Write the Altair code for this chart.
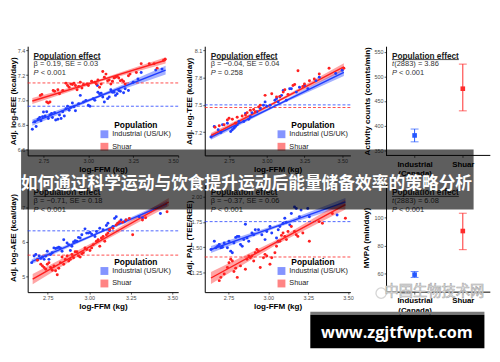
import altair as alt
import pandas as pd

FONT = "Liberation Sans"
BLUE = "#1f3dff"
RED = "#ff1f1f"
CAT_BLUE = "#2457ff"
CAT_RED = "#ff2b2b"
GROUPS = ["Industrial (US/UK)", "Shuar"]
CATS = ["Industrial (Canada)", "Shuar"]
FFM_TICKS = [2.75, 3.0, 3.25, 3.5]

# ---------------- REE ----------------
ree_ind = [(2.688, 6.765), (2.702, 6.826), (2.709, 6.787), (2.720, 6.845), (2.729, 6.860), (2.736, 6.834),
           (2.745, 6.866), (2.750, 6.903), (2.759, 6.871), (2.768, 6.905), (2.777, 6.852), (2.786, 6.879),
           (2.795, 6.892), (2.800, 6.860), (2.812, 6.897), (2.818, 6.839), (2.830, 6.845), (2.839, 6.879),
           (2.848, 6.852), (2.857, 6.905), (2.866, 6.871), (2.875, 6.929), (2.884, 6.950), (2.893, 6.918),
           (2.902, 6.939), (2.911, 6.976), (2.920, 6.945), (2.928, 6.913), (2.946, 6.971), (2.955, 7.037),
           (2.973, 6.984), (2.986, 6.997), (3.000, 6.958), (3.009, 6.950), (3.027, 7.011), (3.036, 6.997),
           (3.050, 7.116), (3.053, 7.063), (3.062, 7.050), (3.071, 7.055), (3.080, 7.024), (3.089, 6.984),
           (3.107, 7.011), (3.116, 7.024), (3.125, 7.082), (3.134, 7.063), (3.143, 7.063), (3.151, 7.037),
           (3.160, 7.050), (3.169, 7.076), (3.178, 7.071), (3.196, 7.058), (3.205, 7.090), (3.223, 7.076),
           (3.250, 7.142), (3.276, 7.169), (3.294, 7.221), (3.375, 7.240), (3.410, 7.248)]
ree_sh = [(2.732, 7.037), (2.741, 7.045), (2.768, 6.984), (2.777, 6.976), (2.786, 6.984), (2.804, 7.076),
          (2.812, 7.071), (2.830, 7.082), (2.839, 7.050), (2.857, 7.076), (2.875, 7.134), (2.884, 7.116),
          (2.893, 7.103), (2.902, 7.129), (2.911, 7.124), (2.920, 7.134), (2.928, 7.116), (2.937, 7.082),
          (2.946, 7.108), (2.955, 7.142), (2.964, 7.097), (2.973, 7.124), (2.991, 7.129), (3.000, 7.116),
          (3.018, 7.150), (3.036, 7.142), (3.044, 7.129), (3.053, 7.161), (3.062, 7.103), (3.071, 7.129),
          (3.080, 7.229), (3.089, 7.182), (3.098, 7.208), (3.107, 7.155), (3.116, 7.161), (3.125, 7.129),
          (3.134, 7.150), (3.143, 7.177), (3.151, 7.182), (3.160, 7.190), (3.169, 7.177), (3.178, 7.155),
          (3.187, 7.161), (3.196, 7.148), (3.205, 7.129), (3.223, 7.195), (3.232, 7.208), (3.267, 7.221),
          (3.294, 7.292), (3.339, 7.292), (3.366, 7.292), (3.383, 7.256), (3.419, 7.319), (3.428, 7.327)]
ree_fit_x = [2.688, 3.060, 3.430]
ree_ind_fit = [6.818, 7.030, 7.240]
ree_ind_half = [0.025, 0.010, 0.035]
ree_sh_fit = [6.992, 7.155, 7.319]
ree_sh_half = [0.025, 0.010, 0.025]
ree_means = [6.950, 7.137]

# ---------------- TEE ----------------
tee_ind = [(2.630, 7.146), (2.652, 7.261), (2.678, 7.225), (2.696, 7.196), (2.707, 7.280), (2.739, 7.298),
           (2.761, 7.207), (2.772, 7.225), (2.783, 7.243), (2.793, 7.261), (2.804, 7.280), (2.815, 7.316),
           (2.848, 7.316), (2.859, 7.406), (2.880, 7.341), (2.891, 7.370), (2.902, 7.413), (2.935, 7.424),
           (2.957, 7.460), (2.978, 7.496), (2.989, 7.533), (3.000, 7.486), (3.022, 7.496), (3.054, 7.551),
           (3.065, 7.569), (3.076, 7.533), (3.087, 7.587), (3.098, 7.605), (3.109, 7.659), (3.130, 7.551),
           (3.152, 7.677), (3.163, 7.677), (3.196, 7.641), (3.217, 7.695), (3.250, 7.713), (3.272, 7.677),
           (3.326, 7.767), (3.348, 7.804), (3.457, 7.847), (3.500, 7.883)]
tee_sh = [(2.657, 7.254), (2.685, 7.269), (2.717, 7.280), (2.739, 7.334), (2.750, 7.352), (2.772, 7.341),
          (2.793, 7.298), (2.804, 7.363), (2.837, 7.377), (2.859, 7.388), (2.870, 7.413), (2.891, 7.442),
          (2.913, 7.449), (2.924, 7.424), (2.946, 7.478), (2.957, 7.496), (2.989, 7.605), (3.033, 7.623),
          (3.065, 7.587), (3.087, 7.594), (3.109, 7.641), (3.120, 7.666), (3.141, 7.616), (3.174, 7.713),
          (3.185, 7.724), (3.207, 7.876), (3.239, 7.702), (3.250, 7.731), (3.283, 7.767), (3.315, 7.786),
          (3.348, 7.840), (3.413, 7.905), (3.511, 7.905)]
tee_fit_x = [2.630, 3.070, 3.511]
tee_ind_fit = [7.145, 7.501, 7.858]
tee_ind_half = [0.030, 0.012, 0.040]
tee_sh_fit = [7.160, 7.539, 7.919]
tee_sh_half = [0.030, 0.012, 0.040]
tee_means = [7.500, 7.471]

# ---------------- AEE ----------------
aee_ind = [(2.653, 5.394), (2.668, 5.587), (2.678, 5.635), (2.688, 5.490), (2.698, 5.587), (2.708, 5.519),
           (2.718, 5.558), (2.728, 5.490), (2.738, 5.587), (2.747, 5.731), (2.757, 5.490), (2.767, 5.635),
           (2.777, 5.683), (2.787, 5.827), (2.797, 5.808), (2.807, 5.827), (2.816, 5.846), (2.826, 5.827),
           (2.836, 5.731), (2.846, 6.067), (2.866, 5.971), (2.876, 5.923), (2.886, 5.750), (2.895, 5.875),
           (2.905, 6.000), (2.915, 6.038), (2.925, 6.019), (2.935, 6.135), (2.945, 6.115), (2.955, 6.212),
           (2.974, 6.385), (2.984, 6.260), (2.994, 6.260), (3.004, 6.279), (3.014, 6.231), (3.034, 6.163),
           (3.043, 6.308), (3.063, 6.404), (3.083, 6.356), (3.103, 6.481), (3.112, 6.548), (3.122, 6.327),
           (3.142, 6.452), (3.152, 6.692), (3.162, 6.740), (3.172, 6.548), (3.191, 6.644), (3.211, 6.596),
           (3.221, 6.644), (3.300, 6.740), (3.320, 6.712), (3.428, 6.837)]
aee_sh = [(2.688, 5.462), (2.708, 5.346), (2.718, 5.298), (2.728, 5.250), (2.738, 5.202), (2.747, 5.346),
          (2.757, 5.394), (2.767, 5.250), (2.777, 5.173), (2.787, 5.298), (2.797, 5.154), (2.807, 5.038),
          (2.816, 5.231), (2.826, 5.394), (2.836, 5.558), (2.846, 5.346), (2.856, 5.490), (2.866, 5.587),
          (2.876, 5.442), (2.886, 5.490), (2.895, 5.635), (2.905, 5.538), (2.915, 5.712), (2.925, 5.712),
          (2.935, 5.587), (2.945, 5.558), (2.955, 5.654), (2.964, 5.683), (2.974, 5.827), (2.984, 5.779),
          (3.004, 5.750), (3.014, 5.827), (3.024, 5.923), (3.043, 6.019), (3.053, 6.067), (3.063, 5.875),
          (3.073, 6.115), (3.083, 6.163), (3.093, 6.019), (3.103, 6.212), (3.112, 6.260), (3.122, 6.356),
          (3.142, 6.404), (3.162, 6.500), (3.172, 6.548), (3.182, 6.596), (3.201, 6.577), (3.221, 6.644),
          (3.241, 6.692), (3.261, 6.212), (3.320, 6.644), (3.339, 6.712), (3.468, 6.885)]
aee_ind_fit_x = [2.653, 3.060, 3.468]
aee_ind_fit = [5.423, 6.273, 7.125]
aee_ind_half = [0.070, 0.035, 0.080]
aee_sh_fit_x = [2.659, 3.070, 3.478]
aee_sh_fit = [4.913, 6.047, 7.173]
aee_sh_half = [0.150, 0.060, 0.120]
aee_means = [6.327, 5.615]

# ---------------- PAL ----------------
pal_ind = [(2.640, 1.477), (2.661, 1.558), (2.671, 1.494), (2.682, 1.510), (2.692, 1.526), (2.702, 1.494),
           (2.712, 1.500), (2.723, 1.542), (2.743, 1.494), (2.753, 1.558), (2.764, 1.461), (2.774, 1.445),
           (2.784, 1.542), (2.795, 1.597), (2.805, 1.607), (2.815, 1.607), (2.825, 1.526), (2.836, 1.510),
           (2.846, 1.575), (2.856, 1.727), (2.866, 1.591), (2.877, 1.558), (2.897, 1.640), (2.908, 1.623),
           (2.918, 1.672), (2.938, 1.672), (2.959, 1.623), (2.979, 1.575), (2.990, 1.656), (3.010, 1.705),
           (3.021, 1.640), (3.051, 1.591), (3.062, 1.558), (3.062, 1.672), (3.072, 1.705), (3.092, 1.737),
           (3.103, 1.786), (3.113, 1.747), (3.134, 1.721), (3.144, 1.834), (3.164, 1.899), (3.175, 1.883),
           (3.195, 1.802), (3.205, 1.867), (3.247, 1.883), (3.257, 1.802), (3.431, 1.818)]
pal_sh = [(2.692, 1.169), (2.702, 1.201), (2.723, 1.234), (2.743, 1.299), (2.753, 1.347), (2.764, 1.380),
          (2.774, 1.364), (2.784, 1.260), (2.795, 1.292), (2.805, 1.201), (2.825, 1.315), (2.856, 1.282),
          (2.866, 1.380), (2.877, 1.412), (2.887, 1.396), (2.897, 1.412), (2.908, 1.364), (2.918, 1.445),
          (2.928, 1.477), (2.938, 1.461), (2.949, 1.299), (2.969, 1.396), (2.979, 1.429), (2.990, 1.412),
          (3.010, 1.331), (3.021, 1.396), (3.041, 1.445), (3.051, 1.510), (3.062, 1.558), (3.072, 1.558),
          (3.082, 1.617), (3.092, 1.640), (3.103, 1.607), (3.113, 1.575), (3.123, 1.656), (3.144, 1.705),
          (3.164, 1.656), (3.175, 1.623), (3.185, 1.607), (3.216, 1.640), (3.257, 1.558), (3.318, 1.753),
          (3.339, 1.737), (3.401, 1.834), (3.483, 1.786)]
pal_fit_x = [2.640, 3.060, 3.483]
pal_ind_fit = [1.477, 1.712, 1.948]
pal_ind_half = [0.035, 0.015, 0.040]
pal_sh_fit = [1.195, 1.557, 1.922]
pal_sh_half = [0.060, 0.022, 0.050]
pal_means = [1.753, 1.403]

# ---------------- group comparisons ----------------
act_mean = [380, 475]
act_lo = [367, 430]
act_hi = [393, 525]
mvpa_mean = [59.2, 90.3]
mvpa_lo = [57.2, 77.0]
mvpa_hi = [61.4, 103.0]

W1, W2, W3, H = 153, 148, 115.3, 111
CAT_AXIS_SHIFT = 9.3
ONE = pd.DataFrame({"k": [0]})


def legend_spec():
    return alt.Legend(title="Population", orient="none", legendX=74, legendY=76, symbolType="square",
                      symbolSize=64, symbolOpacity=0.55, symbolStrokeWidth=0, labelFontSize=7.4,
                      labelColor="#1a1a1a", labelFont=FONT, titleFont=FONT, titleFontSize=8.5,
                      titleFontWeight="bold", titleColor="#000000", titleAnchor="middle", titlePadding=1,
                      rowPadding=4.7, labelOffset=4, padding=0)


def annotate(line2, line3, x0=6):
    layers = [
        alt.Chart(ONE).mark_text(text="Population effect", align="left", baseline="middle", font=FONT,
                                 fontSize=8.4, fontWeight="bold", color="#1a1a1a")
        .encode(x=alt.value(x0), y=alt.value(9.5)),
        alt.Chart(ONE).mark_rule(color="#1a1a1a", strokeWidth=0.8)
        .encode(x=alt.value(x0), x2=alt.value(x0 + 68), y=alt.value(13.6)),
    ]
    for yy, parts in ((18.5, line2), (27.3, line3)):
        for txt, italic, dx in parts:
            layers.append(
                alt.Chart(ONE).mark_text(text=txt, align="left", baseline="middle", font=FONT, fontSize=7.6,
                                         fontStyle="italic" if italic else "normal", color="#333333")
                .encode(x=alt.value(x0 + dx), y=alt.value(yy)))
    return layers


def reg_panel(ind, sh, fx_i, fy_i, fh_i, fx_s, fy_s, fh_s, means, xdom, ydom, yticks, yfmt, ytitle,
              title_x, width, ann):
    pts = pd.DataFrame([(x, y, GROUPS[0]) for x, y in ind] + [(x, y, GROUPS[1]) for x, y in sh],
                       columns=["x", "y", "g"])
    rows = []
    for g, fx, fy, fh in ((GROUPS[0], fx_i, fy_i, fh_i), (GROUPS[1], fx_s, fy_s, fh_s)):
        for x, f, h in zip(fx, fy, fh):
            rows.append((x, f, f - h, f + h, g))
    fit = pd.DataFrame(rows, columns=["x", "fit", "lo", "hi", "g"])
    mdf = pd.DataFrame({"m": means, "g": GROUPS})
    xs = alt.Scale(domain=xdom, nice=False, zero=False)
    ys = alt.Scale(domain=ydom, nice=False, zero=False)
    xax = alt.Axis(values=FFM_TICKS, format=".2f", title="log-FFM (kg)")
    yax = alt.Axis(values=yticks, format=yfmt, title=ytitle, titleX=title_x, titleY=H / 2)
    cs = alt.Scale(domain=GROUPS, range=[BLUE, RED])

    def X(f):
        return alt.X(f, type="quantitative", scale=xs, axis=xax)

    def Y(f):
        return alt.Y(f, type="quantitative", scale=ys, axis=yax)

    band = alt.Chart(fit).mark_area(opacity=0.4).encode(
        x=X("x"), y=Y("lo"), y2="hi", color=alt.Color("g:N", scale=cs, legend=legend_spec()))
    mean = alt.Chart(mdf).mark_rule(strokeDash=[3, 2], strokeWidth=0.8).encode(
        y=Y("m"), color=alt.Color("g:N", scale=cs, legend=None))
    line = alt.Chart(fit).mark_line(strokeWidth=1.4).encode(
        x=X("x"), y=Y("fit"), color=alt.Color("g:N", scale=cs, legend=None))
    dots = alt.Chart(pts).mark_circle(size=9, opacity=1).encode(
        x=X("x"), y=Y("y"), color=alt.Color("g:N", scale=cs, legend=None))
    return alt.layer(band, mean, line, dots, *ann).properties(width=width, height=H)


def cat_panel(mean, lo, hi, ydom, yticks, ytitle, title_x, ann, extra=()):
    df = pd.DataFrame({"c": CATS, "m": mean, "lo": lo, "hi": hi})
    xs = alt.Scale(type="point", domain=CATS, padding=0.6765, align=0.578)
    xax = alt.Axis(title=None, labelExpr="split(datum.label, ' ')", labelFontSize=8, labelFontWeight="bold",
                   labelColor="#000000", labelPadding=3, labelLineHeight=9.5, labelAngle=0, domain=False)
    ys = alt.Scale(domain=ydom, nice=False, zero=False)
    yax = alt.Axis(values=yticks, format="d", title=ytitle, titleX=title_x, titleY=H / 2,
                   offset=-CAT_AXIS_SHIFT)
    cs = alt.Scale(domain=CATS, range=[CAT_BLUE, CAT_RED])
    X = alt.X("c:N", scale=xs, axis=xax)
    col = alt.Color("c:N", scale=cs, legend=None)

    def Y(f):
        return alt.Y(f, type="quantitative", scale=ys, axis=yax)

    base_line = alt.Chart(ONE).mark_rule(color="#000000", strokeWidth=1).encode(
        x=alt.value(CAT_AXIS_SHIFT), x2=alt.value(W3), y=alt.value(H))
    bar = alt.Chart(df).mark_rule(strokeWidth=1).encode(x=X, y=Y("lo"), y2="hi", color=col)
    cap_lo = alt.Chart(df).mark_tick(thickness=1, size=8).encode(x=X, y=Y("lo"), color=col)
    cap_hi = alt.Chart(df).mark_tick(thickness=1, size=8).encode(x=X, y=Y("hi"), color=col)
    sq = alt.Chart(df).mark_square(size=22, opacity=1).encode(x=X, y=Y("m"), color=col)
    return alt.layer(bar, cap_lo, cap_hi, sq, base_line, *ann, *extra).properties(width=W3, height=H)


P_LT = [("P", True, 0), ("< 0.001", False, 7.2)]
CX0 = 6 + CAT_AXIS_SHIFT

p1 = reg_panel(ree_ind, ree_sh, ree_fit_x, ree_ind_fit, ree_ind_half, ree_fit_x, ree_sh_fit, ree_sh_half,
               ree_means, [2.662, 3.50], [6.555, 7.432], [6.6, 6.8, 7.0, 7.2, 7.4], ".1f",
               "Adj. log-REE (kcal/day)", -10.5, W1,
               annotate([("β = 0.19, SE = 0.03", False, 0)], P_LT))
p2 = reg_panel(tee_ind, tee_sh, tee_fit_x, tee_ind_fit, tee_ind_half, tee_fit_x, tee_sh_fit, tee_sh_half,
               tee_means, [2.589, 3.554], [6.943, 8.147], [7.2, 7.5, 7.8, 8.1], ".1f",
               "Adj. log-TEE (kcal/day)", -11.5, W2,
               annotate([("β = −0.04, SE = 0.04", False, 0)], [("P", True, 0), ("= 0.258", False, 7.2)]))
p3 = cat_panel(act_mean, act_lo, act_hi, [339.4, 561.4], [350, 400, 450, 500, 550],
               "Activity counts (counts/min)", -15,
               annotate([("t", True, 0), ("(2883) = 3.86", False, 2.3)], P_LT, x0=CX0))
p4 = reg_panel(aee_ind, aee_sh, aee_ind_fit_x, aee_ind_fit, aee_ind_half, aee_sh_fit_x, aee_sh_fit,
               aee_sh_half, aee_means, [2.629, 3.535], [4.529, 7.731], [5, 6, 7], "d",
               "Adj. log-AEE (kcal/day)", -10.5, W1,
               annotate([("β = −0.71, SE = 0.18", False, 0)], P_LT))
p5 = reg_panel(pal_ind, pal_sh, pal_fit_x, pal_ind_fit, pal_ind_half, pal_fit_x, pal_sh_fit, pal_sh_half,
               pal_means, [2.601, 3.514], [1.055, 2.136], [1.25, 1.5, 1.75, 2.0], ".2f",
               "Adj. PAL (TEE/REE)", -11.3, W2,
               annotate([("β = −0.37, SE = 0.06", False, 0)], P_LT))

# page overlays (banner, watermark, site label), placed relative to the last panel
overlay = [
    alt.Chart(ONE).mark_rect(color="#000000", opacity=0.63)
    .encode(x=alt.value(-361.7), x2=alt.value(98.3), y=alt.value(-34), y2=alt.value(27)),
    alt.Chart(ONE).mark_text(text="如何通过科学运动与饮食提升运动后能量储备效率的策略分析",
                             font="Noto Sans CJK SC", fontSize=17, fontWeight="bold", color="#ffffff",
                             align="center", baseline="middle")
    .encode(x=alt.value(-132.7), y=alt.value(1.5)),
    alt.Chart(ONE).mark_point(shape="circle", size=110, filled=False, color="#c4c4c4", strokeWidth=1.3)
    .encode(x=alt.value(4.3), y=alt.value(112)),
    alt.Chart(ONE).mark_text(text="中国生物技术网", font="Noto Sans CJK SC", fontSize=14.5, color="#f0f0f0",
                             stroke="#a8a8a8", strokeWidth=0.6, align="center", baseline="middle")
    .encode(x=alt.value(58.3), y=alt.value(111)),
    alt.Chart(ONE).mark_rect(color="#7a7a7a")
    .encode(x=alt.value(-67.7), x2=alt.value(109.3), y=alt.value(131), y2=alt.value(134)),
    alt.Chart(ONE).mark_rect(color="#000000")
    .encode(x=alt.value(-67.7), x2=alt.value(109.3), y=alt.value(134), y2=alt.value(168)),
    alt.Chart(ONE).mark_text(text="www.zgjtfwpt.com", font="Open Sans", fontSize=16.5, fontWeight="bold",
                             color="#ffffff", align="center", baseline="middle")
    .encode(x=alt.value(20.3), y=alt.value(152.5)),
]

p6 = cat_panel(mvpa_mean, mvpa_lo, mvpa_hi, [46.7, 124.6], [60, 80, 100], "MVPA (min/day)", -16,
               annotate([("t", True, 0), ("(2883) = 6.08", False, 2.3)], P_LT, x0=CX0), extra=overlay)

chart = (
    alt.concat(p1, p2, p3, p4, p5, p6, columns=3, spacing={"row": 28, "column": 27}, bounds="flush")
    .resolve_scale(color="independent").resolve_legend(color="independent")
    .properties(padding={"top": 35, "left": 0, "right": 0, "bottom": 0}, background="white")
    .configure_view(stroke="transparent")
    .configure_axis(labelFont=FONT, titleFont=FONT, labelFontSize=5.5, labelColor="#4d4d4d",
                    titleFontSize=8.2, titleFontWeight="bold", titleColor="#000000", domainColor="#000000",
                    domainWidth=1, tickColor="#333333", tickWidth=0.8, tickSize=2, labelPadding=1,
                    titlePadding=2, grid=False)
)

chart.save("out.html", embed_options={"renderer": "svg", "actions": False})
